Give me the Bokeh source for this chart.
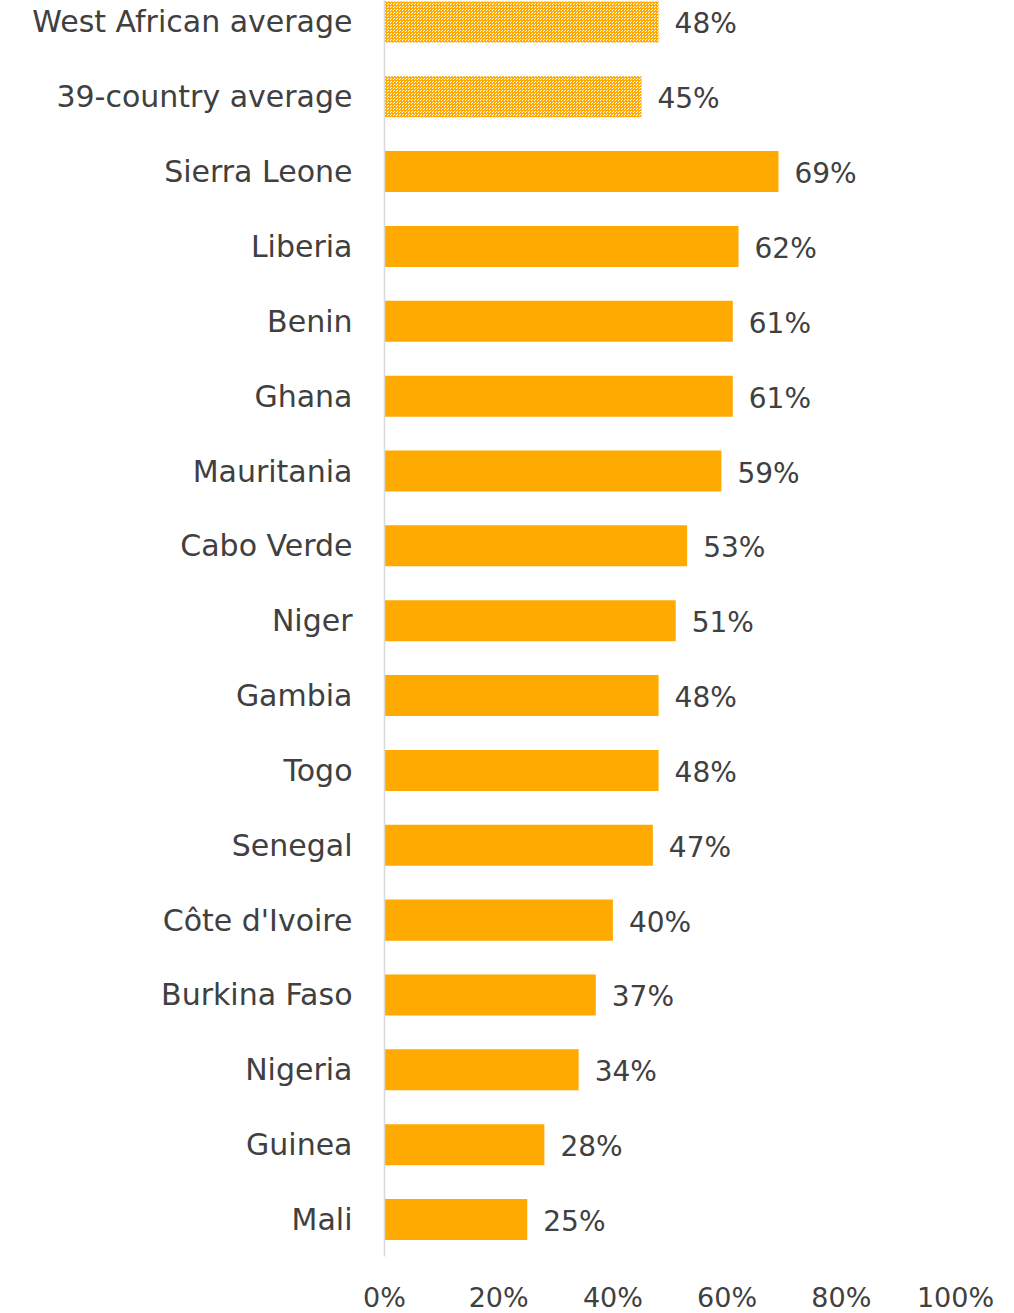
from bokeh.plotting import figure
from bokeh.models import ColumnDataSource, Range1d, FixedTicker
from bokeh.core.properties import value
from bokeh.embed import file_html
from bokeh.resources import INLINE

categories = ["West African average", "39-country average", "Sierra Leone", "Liberia", "Benin",
              "Ghana", "Mauritania", "Cabo Verde", "Niger", "Gambia", "Togo", "Senegal",
              "Côte d'Ivoire", "Burkina Faso", "Nigeria", "Guinea", "Mali"]
values = [48, 45, 69, 62, 61, 61, 59, 53, 51, 48, 48, 47, 40, 37, 34, 28, 25]
is_average = [True, True] + [False] * 15
x_ticks = [0, 0.2, 0.4, 0.6, 0.8, 1.0]
x_tick_labels = ["0%", "20%", "40%", "60%", "80%", "100%"]

FONT = "DejaVu Sans"
TXT = "#404040"
ORANGE = "#FFAA00"

n = len(categories)
ypos = [n - 1 - i for i in range(n)]
frac = [v / 100 for v in values]
labels = [f"{v}%" for v in values]

avg_idx = [i for i in range(n) if is_average[i]]
ctry_idx = [i for i in range(n) if not is_average[i]]

src_c = ColumnDataSource(dict(y=[ypos[i] for i in ctry_idx], x=[frac[i] for i in ctry_idx]))
src_a = ColumnDataSource(dict(y=[ypos[i] for i in avg_idx], x=[frac[i] for i in avg_idx]))
src_l = ColumnDataSource(dict(y=ypos, x=frac, t=labels))

p = figure(width=1014, height=1313, frame_width=571, frame_height=1256,
           x_range=Range1d(0, 1.0), y_range=Range1d(-0.494, 16.286),
           output_backend="svg", toolbar_location=None,
           min_border_left=384, min_border_right=59, min_border_top=0, min_border_bottom=57)
p.outline_line_color = None
p.xgrid.visible = False
p.ygrid.visible = False

p.hbar(y="y", left=0, right="x", height=0.548, source=src_c,
       fill_color=ORANGE, line_color=None)
p.hbar(y="y", left=0, right="x", height=0.548, source=src_a,
       fill_color="#FFFFFF", line_color=None,
       hatch_pattern="criss_cross", hatch_color=ORANGE, hatch_scale=3, hatch_weight=1.0)

p.text(x="x", y="y", text="t", source=src_l, x_offset=16, y_offset=2, text_align="left",
       text_baseline="middle", text_font=value(FONT), text_font_size="28px", text_color=TXT)

p.yaxis.ticker = FixedTicker(ticks=ypos)
p.yaxis.major_label_overrides = {ypos[i]: categories[i] for i in range(n)}
p.yaxis.axis_line_color = "#D9D9D9"
p.yaxis.axis_line_width = 1.5
p.yaxis.major_tick_line_color = None
p.yaxis.minor_tick_line_color = None
p.yaxis.major_label_standoff = 26
p.yaxis.major_label_text_font = FONT
p.yaxis.major_label_text_font_size = "30px"
p.yaxis.major_label_text_color = TXT

p.xaxis.ticker = FixedTicker(ticks=x_ticks)
p.xaxis.major_label_overrides = {t: l for t, l in zip(x_ticks, x_tick_labels)}
p.xaxis.axis_line_color = None
p.xaxis.major_tick_line_color = None
p.xaxis.minor_tick_line_color = None
p.xaxis.major_label_standoff = 19
p.xaxis.major_label_text_font = FONT
p.xaxis.major_label_text_font_size = "27px"
p.xaxis.major_label_text_color = TXT

open("out.html", "w").write(file_html(p, INLINE))
